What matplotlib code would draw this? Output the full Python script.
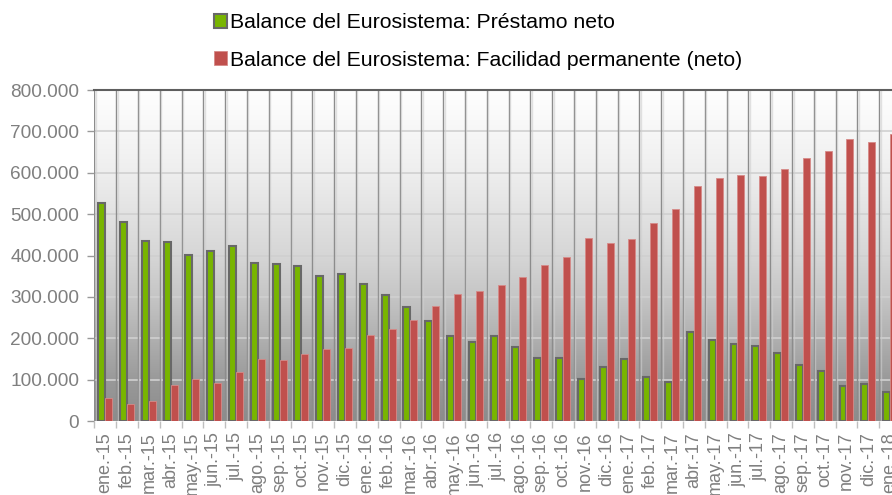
import numpy as np
import matplotlib
matplotlib.use('Agg')
import matplotlib.pyplot as plt
from matplotlib.colors import LinearSegmentedColormap
from matplotlib.ticker import FuncFormatter

plt.rcParams['font.family'] = ['Liberation Sans', 'DejaVu Sans']

# Datos
meses = ['ene.-15', 'feb.-15', 'mar.-15', 'abr.-15', 'may.-15', 'jun.-15', 'jul.-15',
         'ago.-15', 'sep.-15', 'oct.-15', 'nov.-15', 'dic.-15',
         'ene.-16', 'feb.-16', 'mar.-16', 'abr.-16', 'may.-16', 'jun.-16', 'jul.-16',
         'ago.-16', 'sep.-16', 'oct.-16', 'nov.-16', 'dic.-16',
         'ene.-17', 'feb.-17', 'mar.-17', 'abr.-17', 'may.-17', 'jun.-17', 'jul.-17',
         'ago.-17', 'sep.-17', 'oct.-17', 'nov.-17', 'dic.-17', 'ene.-18']

prestamo_neto = [528000, 482000, 436000, 432000, 401000, 411000, 424000,
                 382000, 380000, 375000, 351000, 355000,
                 330000, 305000, 276000, 242000, 205000, 191000, 205000,
                 178000, 153000, 153000, 102000, 131000,
                 150000, 106000, 94000, 216000, 195000, 185000, 181000,
                 164000, 136000, 120000, 85000, 90000, 70000]

facilidad_neto = [56000, 41000, 48000, 86000, 101000, 91000, 119000,
                  151000, 147000, 161000, 174000, 176000,
                  209000, 222000, 243000, 277000, 306000, 314000, 328000,
                  348000, 377000, 396000, 442000, 431000,
                  440000, 478000, 513000, 567000, 587000, 594000, 593000,
                  608000, 635000, 652000, 681000, 674000, 694000]

etiquetas = ['Balance del Eurosistema: Préstamo neto',
             'Balance del Eurosistema: Facilidad permanente (neto)']

W, H = 892, 495
fig = plt.figure(figsize=(W / 100, H / 100), dpi=100)
# the plot area runs past the right and bottom edge of the image, as in the original
ax = fig.add_axes([94.3 / W, 74 / H, 806.7 / W, 331 / H])

n = len(meses)
x = np.arange(n)
ax.set_xlim(-0.5, n - 0.5)
ax.set_ylim(0, 800000)

# gradient background
grad_cmap = LinearSegmentedColormap.from_list(
    'fondo', [(0.0, '#8c8c8c'), (0.12, '#999999'), (0.25, '#b0b0b0'),
              (0.38, '#c6c6c6'), (0.5, '#d6d6d6'), (0.75, '#eeeeee'), (1.0, '#ffffff')])
grad = np.linspace(0, 1, 256).reshape(-1, 1)
ax.imshow(grad, cmap=grad_cmap, aspect='auto', origin='lower',
          extent=(-0.5, n - 0.5, 0, 800000), zorder=0)

# grid
for yv in range(100000, 800000, 100000):
    ax.axhline(yv, color='#d0d0d0', lw=1.2, zorder=1)
for xv in np.arange(-0.5, n, 1.0):
    ax.axvline(xv, color='#8c8c8c', lw=1.0, zorder=1)
    ax.axvline(xv + 0.07, color='#cfcfcf', lw=1.0, alpha=0.6, zorder=1)

bw = 0.32
ax.bar(x - bw / 2, prestamo_neto, bw, color='#78b500', edgecolor='#686868',
       linewidth=1.5, zorder=3, label=etiquetas[0])
ax.bar(x + bw / 2, facilidad_neto, bw, color='#c0504d', edgecolor='#d68a88',
       linewidth=0.6, zorder=3, label=etiquetas[1])

for s in ['left', 'right', 'bottom']:
    ax.spines[s].set_visible(False)
ax.spines['top'].set_color('#5f5f5f')
ax.spines['top'].set_linewidth(1.5)
ax.axhline(0, color='#9a9a9a', lw=1.0, zorder=2)

ax.yaxis.set_major_formatter(FuncFormatter(lambda v, p: f'{int(v):,}'.replace(',', '.')))
ax.set_yticks(range(0, 800001, 100000))
ax.tick_params(axis='y', colors='#999999', labelcolor='#7f7f7f', labelsize=13.7,
               length=5, width=1, pad=6)

ax.set_xticks(x)
ax.set_xticklabels(meses, rotation=90, fontsize=13, color='#7f7f7f')
ax.tick_params(axis='x', length=0, pad=8)
ax.set_xticks(np.arange(-0.5, n, 1.0), minor=True)
ax.tick_params(axis='x', which='minor', length=5, color='#bfbfbf', width=1)

leg = fig.legend(loc='upper left', bbox_to_anchor=(205 / W, 1 - 5 / H), frameon=False,
                 fontsize=15.3, labelcolor='#000000', handlelength=0.65, handleheight=0.65,
                 handletextpad=0.15, labelspacing=0.85, borderaxespad=0)

fig.savefig('out.png', dpi=100)
